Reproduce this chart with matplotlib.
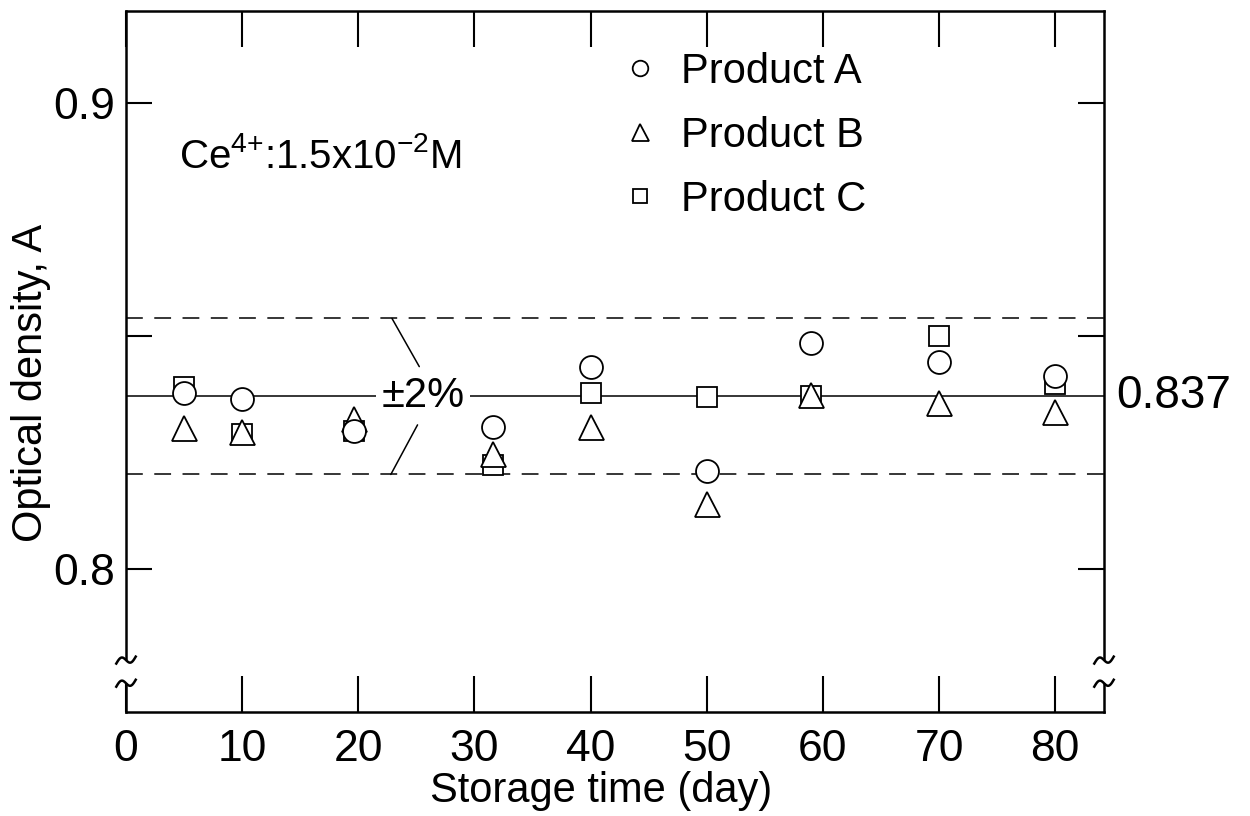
import numpy as np
import matplotlib
matplotlib.use("Agg")
import matplotlib.pyplot as plt
import matplotlib.transforms as mtransforms
from matplotlib.lines import Line2D

plt.rcParams['font.family'] = ['Liberation Sans', 'DejaVu Sans']
plt.rcParams['mathtext.fontset'] = 'custom'
plt.rcParams['mathtext.rm'] = 'Liberation Sans'
plt.rcParams['mathtext.default'] = 'regular'

# ---- data ----
days = [5, 10, 19.6, 31.6, 40, 50, 59, 70, 80]
product_a = [0.8377, 0.8365, 0.8296, 0.8304, 0.8434, 0.8210, 0.8484, 0.8444, 0.8413]
product_b = [0.8302, 0.8294, 0.8322, 0.8247, 0.8304, 0.8139, 0.8374, 0.8356, 0.8337]
product_c = [0.8391, 0.8290, 0.8296, 0.8222, 0.8377, 0.8368, 0.8372, 0.8500, 0.8397]
mean_value = 0.837
tolerance = 0.02
x_ticks = [0, 10, 20, 30, 40, 50, 60, 70, 80]
x_tick_labels = ['0', '10', '20', '30', '40', '50', '60', '70', '80']
y_ticks = [0.80, 0.85, 0.90]
y_tick_labels = ['0.8', '', '0.9']

FS = 30
NFS = 32
LW = 1.1

fig = plt.figure(figsize=(12.5, 8.16), dpi=100)
ax = fig.add_axes([0.1008, 0.1275, 0.7824, 0.859])

ax.set_xlim(0, 84.2)
ax.set_ylim(0.7693, 0.9197)

# reference lines
ax.axhline(mean_value, color='black', lw=LW, zorder=1)
for s in (1 + tolerance, 1 - tolerance):
    ax.axhline(mean_value * s, color='black', lw=LW, linestyle=(0, (11, 7.5)), zorder=1)

mk = dict(linestyle='none', markerfacecolor='white', markeredgecolor='black',
          markeredgewidth=1.3)
hc, = ax.plot(days, product_c, marker='s', markersize=14.5, zorder=3, label='Product C', **mk)
hb, = ax.plot(days, product_b, marker='^', markersize=18, zorder=4, label='Product B', **mk)
ha, = ax.plot(days, product_a, marker='o', markersize=16.5, zorder=5, label='Product A', **mk)

# ±2% label with leader lines
ax.text(25.6, mean_value, '±2%', fontsize=FS, ha='center', va='center', zorder=6,
        bbox=dict(facecolor='white', edgecolor='none', pad=4))
ax.annotate('', xy=(22.9, mean_value * (1 + tolerance)), xytext=(25.25, 0.8434),
            arrowprops=dict(arrowstyle='-', lw=LW, color='black', shrinkA=0, shrinkB=0))
ax.annotate('', xy=(22.8, mean_value * (1 - tolerance)), xytext=(25.1, 0.8309),
            arrowprops=dict(arrowstyle='-', lw=LW, color='black', shrinkA=0, shrinkB=0))

# concentration note
ax.text(4.6, 0.8885, r'Ce$^{4{+}}$:1.5x10$^{-2}$M', fontsize=FS - 1, ha='left', va='center')

# right-side value label
trans_r = mtransforms.blended_transform_factory(ax.transAxes, ax.transData)
ax.text(1.013, mean_value, '0.837', transform=trans_r, fontsize=NFS + 1, ha='left', va='center')

# legend
leg = ax.legend(handles=[ha, hb, hc], loc='upper left', bbox_to_anchor=(0.504, 0.942),
                frameon=False, fontsize=FS, markerscale=0.68, handlelength=1.0,
                handletextpad=0.5, labelspacing=0.58, borderpad=0, borderaxespad=0,
                numpoints=1)

# ticks & spines
ax.set_xticks(x_ticks)
ax.set_xticklabels(x_tick_labels)
ax.set_yticks(y_ticks)
ax.set_yticklabels(y_tick_labels)
ax.tick_params(axis='both', which='major', direction='in', labelsize=NFS, width=1.5,
               top=True, right=True, color='black')
ax.tick_params(axis='x', length=26, pad=12)
ax.tick_params(axis='y', length=19, pad=8)
for sp in ax.spines.values():
    sp.set_linewidth(1.8)

ax.set_xlabel('Storage time (day)', fontsize=FS)
ax.xaxis.set_label_coords(0.486, -0.084)
ax.set_ylabel('Optical density, A', fontsize=FS)
ax.yaxis.set_label_coords(-0.077, 0.47)

# axis break marks
def break_mark(x_ax, y_ax):
    t = np.linspace(-1, 1, 40)
    px = 7 * t
    py = -3 * np.sin(np.pi * t) + 2.5 * t
    tr = (mtransforms.Affine2D().scale(1 / 72) + fig.dpi_scale_trans +
          mtransforms.ScaledTranslation(x_ax, y_ax, ax.transAxes))
    ax.add_line(Line2D(px, py, transform=tr, color='black', lw=1.8, clip_on=False, zorder=8))

for xa in (0.0, 1.0):
    ax.plot([xa, xa], [0.041, 0.074], transform=ax.transAxes, color='white', lw=5,
            clip_on=False, zorder=7, solid_capstyle='butt')
    break_mark(xa, 0.074)
    break_mark(xa, 0.041)

fig.savefig('out.png', dpi=100)
